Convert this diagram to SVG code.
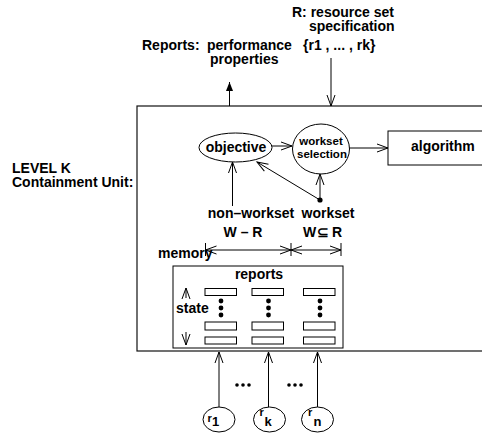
<svg xmlns="http://www.w3.org/2000/svg" width="482" height="434" viewBox="0 0 482 434">
<defs>
<style>
text{font-family:"Liberation Sans",Arial,sans-serif;font-weight:bold;font-size:14px;fill:#000}
.sm{font-size:11.5px}
.rr{font-size:11px}
.sub{font-size:13px}
.ln{stroke:#000;stroke-width:1;fill:none}
.bx{stroke:#111;stroke-width:1.2;fill:#fff}
.open{marker-end:url(#oa)}
</style>
<marker id="oa" markerUnits="userSpaceOnUse" markerWidth="12" markerHeight="10" refX="11" refY="4" orient="auto" overflow="visible">
<path d="M0,0 L11,4 L0,8" fill="none" stroke="#000" stroke-width="1"/>
</marker>
<marker id="oas" markerUnits="userSpaceOnUse" markerWidth="12" markerHeight="10" refX="0" refY="4" orient="auto" overflow="visible">
<path d="M11,0 L0,4 L11,8" fill="none" stroke="#000" stroke-width="1"/>
</marker>
<marker id="fa" markerUnits="userSpaceOnUse" markerWidth="10" markerHeight="10" refX="9" refY="3.5" orient="auto" overflow="visible">
<path d="M0,0 L9,3.5 L0,7 Z" fill="#000"/>
</marker>
</defs>
<rect width="482" height="434" fill="#fff"/>

<g id="labels-top">
<text x="292" y="17">R: resource set</text>
<text x="309" y="31">specification</text>
<text x="303" y="50">{r1 , ... , rk}</text>
<text x="142" y="50">Reports:</text>
<text x="207" y="50">performance</text>
<text x="210" y="64">properties</text>
</g>

<g id="containment-unit">
<rect class="bx" x="137" y="106" width="360" height="245"/>
<text x="12" y="173">LEVEL K</text>
<text x="12" y="187">Containment Unit:</text>
</g>

<g id="objective">
<ellipse class="ln" cx="235.5" cy="147.5" rx="36.5" ry="14.5"/>
<text x="236" y="152" text-anchor="middle">objective</text>
</g>

<g id="workset-selection">
<ellipse class="ln" cx="321" cy="149" rx="28.5" ry="25"/>
<text class="sm" x="321" y="145" text-anchor="middle">workset</text>
<text class="sm" x="322" y="158" text-anchor="middle">selection</text>
</g>

<g id="algorithm">
<rect class="ln" x="388" y="131" width="110" height="34"/>
<text x="411" y="151">algorithm</text>
</g>

<g id="workset-labels">
<text x="251" y="218" text-anchor="middle">non–workset</text>
<text x="328" y="218" text-anchor="middle">workset</text>
<text x="243" y="237" text-anchor="middle">W – R</text>
<text x="303" y="237">W</text>
<text x="317" y="237">⊆</text>
<text x="332" y="237">R</text>
<text x="158" y="258">memory</text>
</g>

<g id="memory">
<rect class="ln" x="173" y="266" width="170" height="82"/>
<text x="259" y="279" text-anchor="middle">reports</text>
<text x="176" y="313">state</text>
<g fill="#fff" stroke="#000" stroke-width="1">
<rect x="205" y="288.5" width="31.5" height="7"/>
<rect x="205" y="322" width="31.5" height="8"/>
<rect x="205" y="337" width="31.5" height="7"/>
<rect x="252" y="288.5" width="31.5" height="7"/>
<rect x="252" y="322" width="31.5" height="8"/>
<rect x="252" y="337" width="31.5" height="7"/>
<rect x="303.5" y="288.5" width="31.5" height="7"/>
<rect x="303.5" y="322" width="31.5" height="8"/>
<rect x="303.5" y="337" width="31.5" height="7"/>
</g>
<g fill="#000">
<circle cx="221" cy="301" r="2.4"/><circle cx="221" cy="308" r="2.4"/><circle cx="221" cy="315" r="2.4"/>
<circle cx="268.5" cy="301" r="2.4"/><circle cx="268.5" cy="308" r="2.4"/><circle cx="268.5" cy="315" r="2.4"/>
<circle cx="320" cy="301" r="2.4"/><circle cx="320" cy="308" r="2.4"/><circle cx="320" cy="315" r="2.4"/>
</g>
</g>

<g id="r1">
<ellipse class="ln" cx="219" cy="419.5" rx="16" ry="12.5"/>
<text class="rr" x="207.5" y="422">r</text><text class="sub" x="212" y="426">1</text>
</g>
<g id="rk">
<ellipse class="ln" cx="269.5" cy="419.5" rx="16" ry="12.5"/>
<text class="rr" x="259.5" y="415.5">r</text><text class="sub" x="264.5" y="426">k</text>
</g>
<g id="rn">
<ellipse class="ln" cx="317.5" cy="419.5" rx="16" ry="12.5"/>
<text class="rr" x="308" y="416">r</text><text class="sub" x="313.5" y="425.5">n</text>
</g>
<g id="ellipsis-dots" fill="#000">
<circle cx="237" cy="385" r="1.8"/><circle cx="243" cy="385" r="1.8"/><circle cx="249" cy="385" r="1.8"/>
<circle cx="289" cy="385" r="1.8"/><circle cx="295" cy="385" r="1.8"/><circle cx="301" cy="385" r="1.8"/>
</g>

<g id="connectors">
<line class="ln" x1="229.5" y1="106" x2="229.5" y2="82" marker-end="url(#fa)"/>
<line class="ln open" x1="331" y1="58" x2="331" y2="106"/>
<line class="ln open" x1="272" y1="146" x2="292" y2="146"/>
<line class="ln open" x1="349.5" y1="148" x2="388" y2="148"/>
<line class="ln open" x1="320" y1="200" x2="320" y2="174"/>
<line class="ln open" x1="320" y1="200" x2="257" y2="162"/>
<circle cx="320" cy="200" r="2.6" fill="#000"/>
<line class="ln open" x1="232.5" y1="206" x2="232.5" y2="162"/>
<line class="ln" x1="205.5" y1="243" x2="205.5" y2="256"/>
<line class="ln" x1="291" y1="243" x2="291" y2="256"/>
<line class="ln" x1="341" y1="243" x2="341" y2="256"/>
<line class="ln" x1="205.5" y1="250" x2="291" y2="250" marker-start="url(#oas)" marker-end="url(#oa)"/>
<line class="ln" x1="291" y1="250" x2="341" y2="250" marker-start="url(#oas)" marker-end="url(#oa)"/>
<line class="ln open" x1="186" y1="298" x2="186" y2="288"/>
<line class="ln open" x1="186" y1="332" x2="186" y2="345"/>
<line class="ln open" x1="219" y1="407" x2="219" y2="352"/>
<line class="ln open" x1="268.5" y1="407" x2="268.5" y2="352"/>
<line class="ln open" x1="317.5" y1="407" x2="317.5" y2="352"/>
</g>
</svg>
